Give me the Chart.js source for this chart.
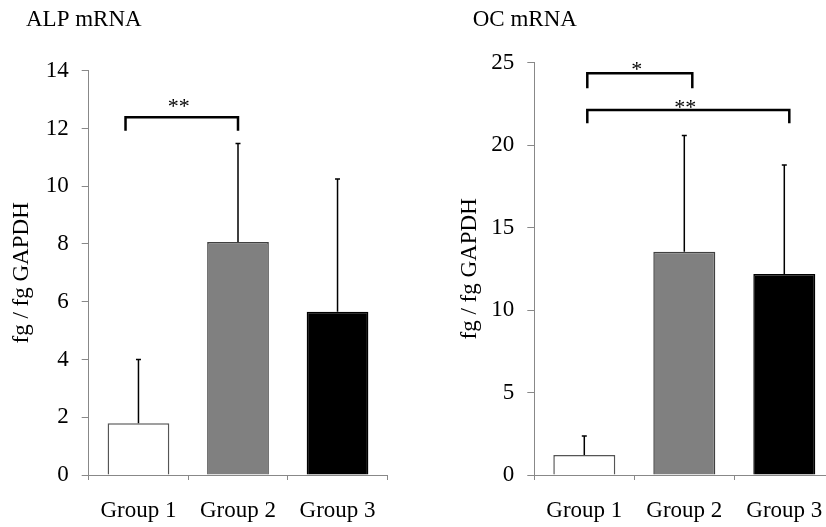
<!DOCTYPE html>
<html>
<head>
<meta charset="utf-8">
<script src="https://cdn.jsdelivr.net/npm/chart.js@4"></script>
<style>
    html, body { margin: 0; padding: 0; background: #fff; overflow: hidden; }
    .panel { position: absolute; top: 0; }
</style>
</head>
<body>
<div class="panel" style="left:0"><canvas id="alp" width="413" height="527"></canvas></div>
<div class="panel" style="left:413px"><canvas id="oc" width="430" height="527"></canvas></div>
<script>
const groups = ['Group 1', 'Group 2', 'Group 3'];

const alpMean = [1.79, 8.07, 5.65];
const alpSd = [2.21, 3.41, 4.60];
const alpBrackets = [
    { from: -0.13, to: 1, y: 12.39, leg: 11.92, label: '**', labelAt: 12.55 }
];

const ocMean = [1.21, 13.54, 12.19];
const ocSd = [1.15, 7.04, 6.61];
const ocBrackets = [
    { from: 0.03, to: 1.08, y: 24.36, leg: 23.45, label: '*', labelAt: 24.17 },
    { from: 0.03, to: 2.05, y: 22.13, leg: 21.33, label: '**', labelAt: 21.89 }
];

const barFill = ['#ffffff', '#808080', '#000000'];
const barEdge = ['#555555', '#404040', '#000000'];
const axisGray = '#888888';
const FONT = "'Liberation Serif', 'Times New Roman', serif";

Chart.defaults.font.family = FONT;
Chart.defaults.font.size = 23;
Chart.defaults.color = '#000';

// error bars (upper only), significance brackets and panel title
const extras = {
    id: 'extras',
    afterDatasetsDraw(chart, args, opts) {
        const ctx = chart.ctx;
        const x = chart.scales.x;
        const y = chart.scales.y;
        const meta = chart.getDatasetMeta(0);

        ctx.save();
        ctx.strokeStyle = '#000';
        ctx.lineWidth = 1.5;
        meta.data.forEach((bar, i) => {
            const top = y.getPixelForValue(opts.mean[i] + opts.sd[i]);
            ctx.beginPath();
            ctx.moveTo(bar.x, bar.y);
            ctx.lineTo(bar.x, top);
            ctx.moveTo(bar.x - 2.5, top);
            ctx.lineTo(bar.x + 2.5, top);
            ctx.stroke();
        });

        ctx.lineWidth = 2.5;
        ctx.lineCap = 'butt';
        ctx.fillStyle = '#000';
        ctx.font = '22px ' + FONT;
        ctx.textAlign = 'center';
        ctx.textBaseline = 'alphabetic';
        for (const b of opts.brackets) {
            const x1 = x.getPixelForValue(b.from);
            const x2 = x.getPixelForValue(b.to);
            const yl = y.getPixelForValue(b.y);
            const yb = y.getPixelForValue(b.leg);
            ctx.beginPath();
            ctx.moveTo(x1, yb);
            ctx.lineTo(x1, yl);
            ctx.lineTo(x2, yl);
            ctx.lineTo(x2, yb);
            ctx.stroke();
            ctx.fillText(b.label, (x1 + x2) / 2 - 3, y.getPixelForValue(b.labelAt));
        }

        ctx.textAlign = 'left';
        ctx.font = '23px ' + FONT;
        ctx.fillText(opts.title, opts.titleX, 26);
        ctx.restore();
    }
};

function makeChart(canvas, mean, sd, brackets, max, step, title, titleX, padLeft, yWidth, padRight, padTop, yTitlePad) {
    return new Chart(canvas, {
        type: 'bar',
        data: {
            labels: groups,
            datasets: [{
                data: mean,
                backgroundColor: barFill,
                borderColor: barEdge,
                borderWidth: 1.5,
                categoryPercentage: 1,
                barPercentage: 0.62
            }]
        },
        options: {
            responsive: false,
            animation: false,
            layout: { padding: { left: padLeft, right: padRight, top: padTop, bottom: 0 } },
            plugins: {
                legend: { display: false },
                tooltip: { enabled: false },
                extras: { mean: mean, sd: sd, brackets: brackets, title: title, titleX: titleX }
            },
            scales: {
                x: {
                    afterFit: (s) => { s.height = 52; },
                    grid: { offset: true, drawOnChartArea: false, tickLength: 5, color: axisGray },
                    border: { color: axisGray, width: 1 },
                    ticks: { padding: 17.5, color: '#000' }
                },
                y: {
                    min: 0,
                    max: max,
                    afterFit: (s) => { s.width = yWidth; },
                    grid: { drawOnChartArea: false, tickLength: 7, color: axisGray },
                    border: { color: axisGray, width: 1 },
                    ticks: { stepSize: step, padding: 13, color: '#000' },
                    title: { display: true, text: 'fg / fg GAPDH', padding: { top: yTitlePad, bottom: 0 }, color: '#000' }
                }
            }
        },
        plugins: [extras]
    });
}

makeChart(document.getElementById('alp'), alpMean, alpSd, alpBrackets, 14, 2,
    'ALP mRNA', 26, 0, 88.7, 25.7, 70.7, 7.9);
makeChart(document.getElementById('oc'), ocMean, ocSd, ocBrackets, 25, 5,
    'OC mRNA', 59.7, 35, 86.3, 8.7, 62.7, 8.2);
</script>
</body>
</html>
